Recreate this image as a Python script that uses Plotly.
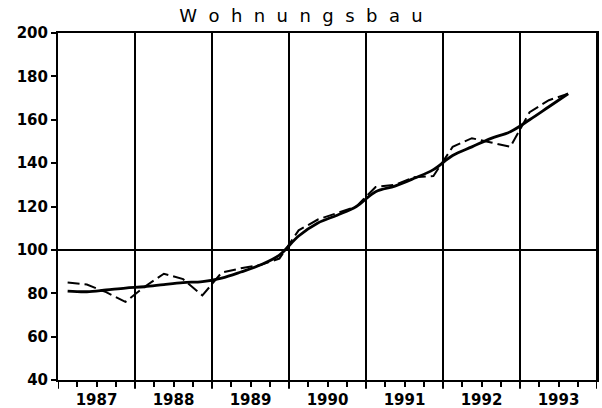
import plotly.graph_objects as go

years = [1987, 1988, 1989, 1990, 1991, 1992, 1993]
year_labels = ["1987", "1988", "1989", "1990", "1991", "1992", "1993"]

# quarterly values (dashed: original series, solid: smoothed trend), 1987Q1 .. 1993Q3
quarters = [(y, q) for y in years for q in (1, 2, 3, 4)][:27]
actual = [85, 84, 80.5, 76,
          83, 89, 86.5, 79,
          89.5, 91.5, 93, 96,
          109, 114, 117, 120,
          129, 130, 133.5, 134,
          147.5, 151.5, 149.5, 147.5,
          163.5, 169, 172]
trend = [81, 80.7, 81.5, 82.4,
         83, 84, 84.9, 85.4,
         87, 89.8, 93, 97.6,
         106.4, 112.4, 116, 120,
         126.8, 129.4, 133, 137,
         143.5, 147.5, 151.4, 154.5,
         160, 166, 172]
y_ticks = [40, 60, 80, 100, 120, 140, 160, 180, 200]
title_text = "\u00a0\u00a0".join("Wohnungsbau")

x = [y + (q - 0.5) / 4 for (y, q) in quarters]

fig = go.Figure()
fig.add_trace(go.Scatter(x=x, y=actual, mode="lines",
                         line=dict(color="black", width=2, dash="12px,5px"),
                         showlegend=False))
fig.add_trace(go.Scatter(x=x, y=trend, mode="lines",
                         line=dict(color="black", width=2.8, shape="spline", smoothing=1.0),
                         showlegend=False))

# year boundaries: vertical lines with a longer tick below the axis
for y in years[1:] + [years[-1] + 1]:
    fig.add_shape(type="line", xref="x", yref="paper", x0=y, x1=y, y0=-0.025, y1=1,
                  line=dict(color="black", width=2), layer="below")
fig.add_shape(type="line", xref="x", yref="paper", x0=years[0], x1=years[0], y0=-0.025, y1=0,
              line=dict(color="black", width=2))
fig.add_hline(y=100, line=dict(color="black", width=2), layer="below")

mid = [y + 0.5 for y in years]
quarter_ticks = [y + f for y in years for f in (0.25, 0.75)]

fig.update_layout(
    width=602, height=408,
    margin=dict(l=58, r=5, t=33, b=28),
    paper_bgcolor="white", plot_bgcolor="white",
    title=dict(text=title_text, x=0.5, xanchor="center", y=0.962, yanchor="middle",
               font=dict(family="DejaVu Sans", size=18, color="black")),
    font=dict(family="DejaVu Sans", color="black"),
)
fig.update_xaxes(range=[years[0], years[-1] + 1], tickvals=mid, ticktext=year_labels,
                 ticks="outside", ticklen=5, tickwidth=2, tickcolor="black",
                 minor=dict(tickvals=quarter_ticks, ticks="outside", ticklen=5, tickwidth=2,
                            tickcolor="black", showgrid=False),
                 showgrid=False, zeroline=False, showline=True, linecolor="black", linewidth=2,
                 mirror=True, automargin=False, tickfont=dict(size=15, weight="bold"))
fig.update_yaxes(range=[40, 200], tickvals=y_ticks, ticks="outside", ticklen=5, tickwidth=2,
                 tickcolor="black", showgrid=False, zeroline=False, showline=True,
                 linecolor="black", linewidth=2, mirror=True, automargin=False,
                 tickfont=dict(size=15, weight="bold"))

fig.write_html("out.html", config={"displayModeBar": False},
               post_script="document.body.style.margin='0';document.body.style.overflow='hidden';")
